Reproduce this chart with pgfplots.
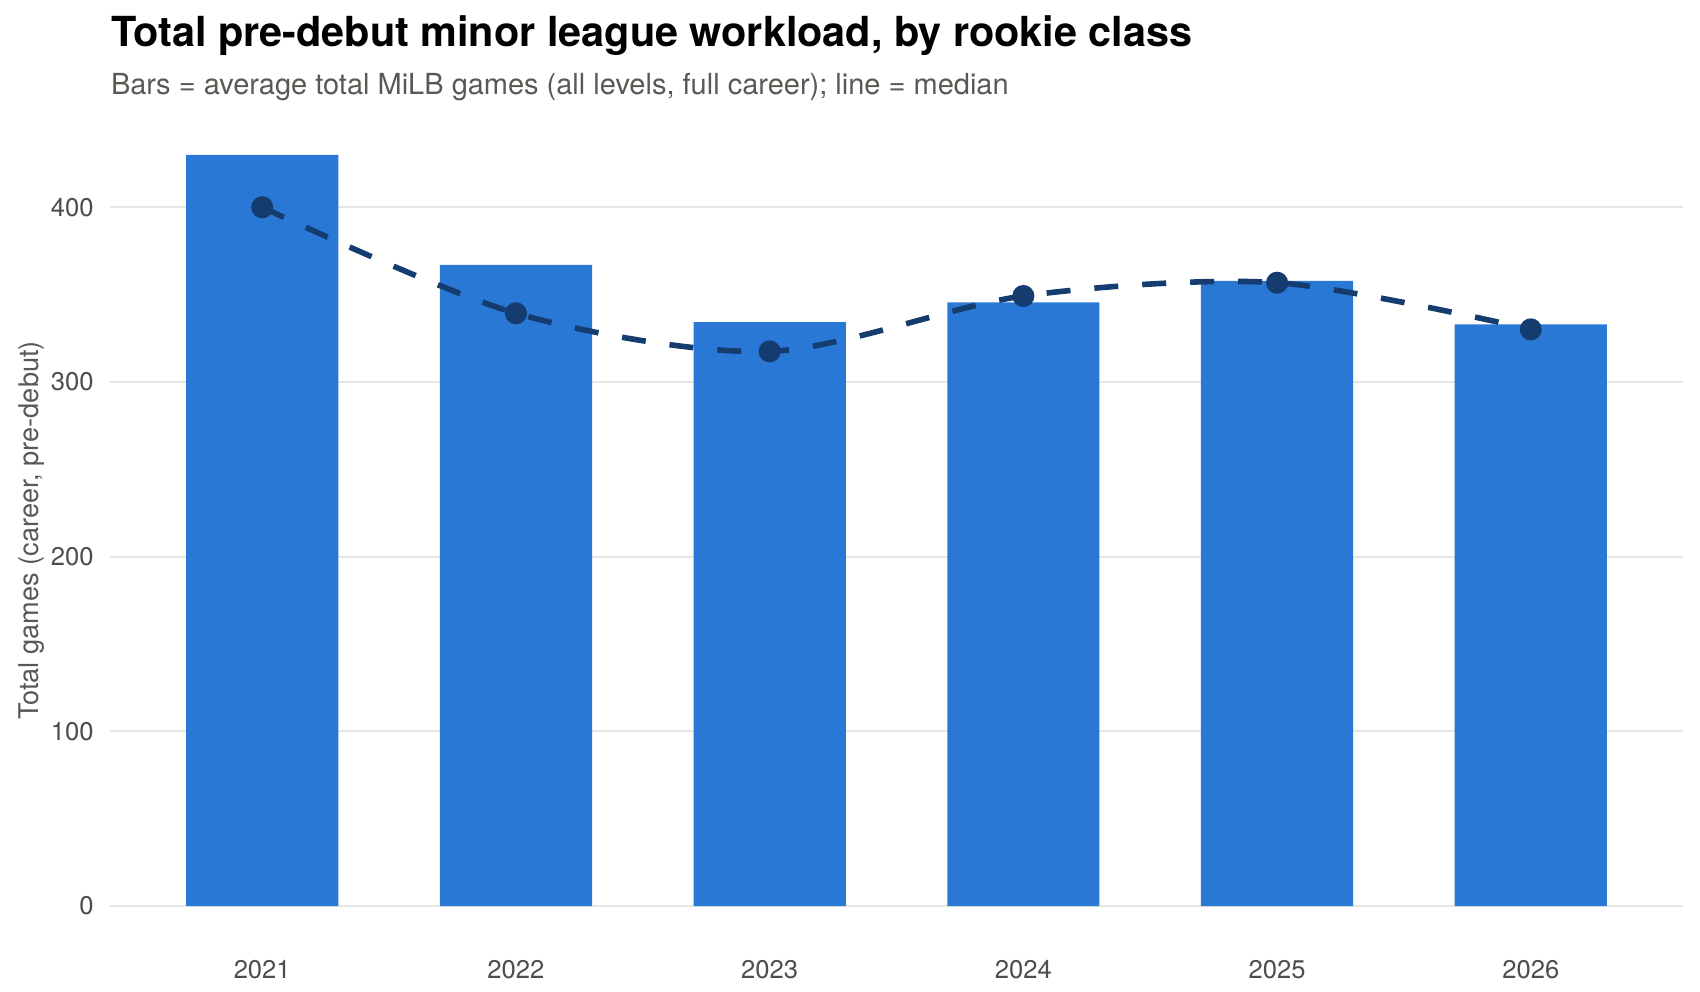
\documentclass[border=0pt]{standalone}
\usepackage{fontspec}
\setmainfont{TeX Gyre Heros}
\usepackage{pgfplots}
\pgfplotsset{compat=1.18}
\definecolor{barblue}{HTML}{2A78D6}
\definecolor{linenavy}{HTML}{143C6E}
\definecolor{gridc}{HTML}{E6E6E1}
\definecolor{tickc}{HTML}{4D4D4D}
\definecolor{subc}{HTML}{595954}
\begin{document}
\begin{tikzpicture}
\path[use as bounding box] (-55pt,-23.7pt) rectangle (795pt,471.8pt);
\begin{axis}[
  at={(0,0)}, anchor=south west,
  scale only axis, width=786.5pt, height=413.15pt,
  xmin=-0.6, xmax=5.6, ymin=-21.5, ymax=451.5,
  axis line style={draw=none},
  major tick length=0pt,
  tick style={draw=none},
  xtick={0,1,2,3,4,5},
  xticklabels={2021,2022,2023,2024,2025,2026},
  ytick={0,100,200,300,400},
  ymajorgrids,
  grid style={gridc, line width=1pt},
  /pgf/number format/assume math mode=true,
  /pgf/number format/1000 sep={},
  xticklabel style={anchor=base, inner sep=0pt, yshift=-17.2pt, font=\fontsize{12.8}{15}\selectfont, text=tickc},
  yticklabel style={anchor=east, inner sep=0pt, xshift=-8pt, font=\fontsize{12.8}{15}\selectfont, text=tickc},
  ylabel={Total games (career, pre-debut)},
  every axis y label/.style={at={(axis description cs:-0.04526,0.5)}, rotate=90, anchor=base, inner sep=0pt, font=\fontsize{13.6}{16}\selectfont, text=subc},
  clip=false,
]
\addplot[ybar, bar width=0.6, fill=barblue, draw=none] coordinates {(0,430) (1,367) (2,334.3) (3,345.5) (4,357.8) (5,333)};
\addplot[linenavy, line width=2.8pt, dash pattern=on 12pt off 12pt, smooth, tension=0.5, mark=*, mark size=4.1pt, mark options={solid, fill=linenavy, draw=none}] coordinates {(0,400) (1,339.3) (2,317.5) (3,349.2) (4,356.8) (5,330.1)};
\end{axis}
\node[anchor=base west, inner sep=0pt, font=\fontsize{20.7}{24}\selectfont\bfseries] at (0.3pt,448.3pt) {Total pre-debut minor league workload, by rookie class};
\node[anchor=base west, inner sep=0pt, font=\fontsize{14.5}{17}\selectfont, text=subc] at (0.3pt,424.5pt) {Bars = average total MiLB games (all levels, full career); line = median};
\end{tikzpicture}
\end{document}
